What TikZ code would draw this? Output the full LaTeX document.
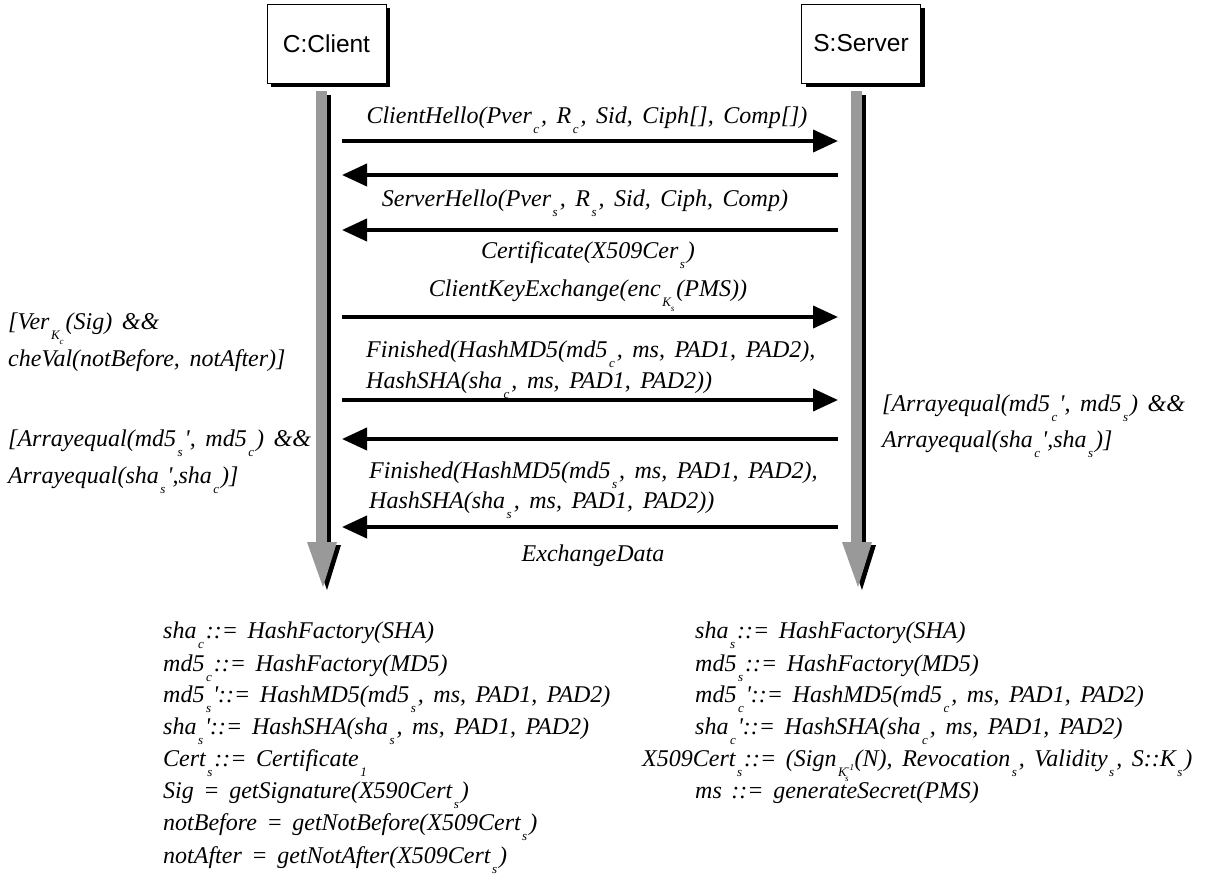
\documentclass[tikz,border=0pt]{standalone}
\usepackage{fontspec}
\setmainfont{Liberation Serif}[WordSpace=1.6]
\newfontfamily\boxfont{Liberation Sans}
\usetikzlibrary{arrows.meta,shadows}

% lowered indices as the picture prints them
\newcommand{\lo}[1]{\kern1.5pt\raisebox{-0.45em}{\fontsize{13}{13}\selectfont #1}\kern2pt}
\newcommand{\llo}[1]{\raisebox{-0.35em}{\fontsize{9}{9}\selectfont #1}}
\newcommand{\pr}{\textquotesingle}

\tikzset{
  actor/.style={draw, line width=0.8pt, fill=white, minimum width=119pt,
    minimum height=79pt, font=\boxfont\fontsize{24.5}{28}\selectfont,
    drop shadow={shadow xshift=4pt, shadow yshift=-4pt, fill=black, opacity=1}},
  msg/.style={line width=4pt, -{Triangle[length=25pt,width=22pt]}},
  txt/.style={inner sep=0pt, font=\fontsize{24}{28}\selectfont\itshape},
}

\begin{document}
\begin{tikzpicture}[x=1pt,y=-1pt]
  \useasboundingbox (0,0) rectangle (1207,891);

  \node[actor] (client) at (326.5,43.5) {C:Client};
  \node[actor] (server) at (861,43.5) {S:Server};

  % life lines
  \foreach \x in {316,851} {
    \fill[black] (\x+11,95) rectangle (\x+15,542);
    \fill[black] (\x-5,545) -- (\x+25,545) -- (\x+11,590) -- cycle;
    \fill[black!40] (\x,91) rectangle (\x+11,542);
    \fill[black!40] (\x-9,542) -- (\x+21,542) -- (\x+7,587) -- cycle;
  }

  \foreach \n/\y in {1/141,2/175,3/230,4/317,5/400,6/439,7/527} {
    \coordinate (c\n) at (342,\y);
    \coordinate (s\n) at (838,\y);
  }

  \draw[msg] (c1) -- (s1);
  \draw[msg] (s2) -- (c2);
  \draw[msg] (s3) -- (c3);
  \draw[msg] (c4) -- (s4);
  \draw[msg] (c5) -- (s5);
  \draw[msg] (s6) -- (c6);
  \draw[msg] (s7) -- (c7);

  % messages
  \node[txt, anchor=base] (hello) at (587,123)
    {ClientHello(Pver\lo{c}, R\lo{c}, Sid, Ciph[], Comp[])};
  \node[txt, anchor=base] (shello) at (585,206)
    {ServerHello(Pver\lo{s}, R\lo{s}, Sid, Ciph, Comp)};
  \node[txt, anchor=base] (cert) at (588,258) {Certificate(X509Cer\lo{s})};
  \node[txt, anchor=base] (kex) at (588,296)
    {ClientKeyExchange(enc\lo{K\llo{s}}(PMS))};
  \node[txt, anchor=base west] (fin1a) at (366,357)
    {Finished(HashMD5(md5\lo{c}, ms, PAD1, PAD2),};
  \node[txt, anchor=base west] (fin1b) at (366,388)
    {HashSHA(sha\lo{c}, ms, PAD1, PAD2))};
  \node[txt, anchor=base west] (fin2a) at (369,478)
    {Finished(HashMD5(md5\lo{s}, ms, PAD1, PAD2),};
  \node[txt, anchor=base west] (fin2b) at (369,508)
    {HashSHA(sha\lo{s}, ms, PAD1, PAD2))};
  \node[txt, anchor=base] (data) at (593,561) {ExchangeData};

  % guards
  \node[txt, anchor=base west] (verA) at (8,329) {[Ver\lo{K\llo{c}}(Sig) \&\&};
  \node[txt, anchor=base west] (verB) at (8,366) {cheVal(notBefore, notAfter)]};
  \node[txt, anchor=base west] (eqcA) at (8,446)
    {[Arrayequal(md5\lo{s}\pr, md5\lo{c}) \&\&};
  \node[txt, anchor=base west] (eqcB) at (8,483)
    {Arrayequal(sha\lo{s}\pr,sha\lo{c})]};
  \node[txt, anchor=base west] (eqsA) at (882,411)
    {[Arrayequal(md5\lo{c}\pr, md5\lo{s}) \&\&};
  \node[txt, anchor=base west] (eqsB) at (882,447)
    {Arrayequal(sha\lo{c}\pr,sha\lo{s})]};

  % client definitions
  \node[txt, anchor=base west] (cdef1) at (163,638) {sha\lo{c} ::= HashFactory(SHA)};
  \node[txt, anchor=base west] (cdef2) at (163,671) {md5\lo{c} ::= HashFactory(MD5)};
  \node[txt, anchor=base west] (cdef3) at (163,702)
    {md5\lo{s}\pr::= HashMD5(md5\lo{s}, ms, PAD1, PAD2)};
  \node[txt, anchor=base west] (cdef4) at (163,734)
    {sha\lo{s}\pr::= HashSHA(sha\lo{s}, ms, PAD1, PAD2)};
  \node[txt, anchor=base west] (cdef5) at (163,766) {Cert\lo{s} ::= Certificate\lo{1}};
  \node[txt, anchor=base west] (cdef6) at (163,798) {Sig = getSignature(X590Cert\lo{s})};
  \node[txt, anchor=base west] (cdef7) at (163,830)
    {notBefore = getNotBefore(X509Cert\lo{s})};
  \node[txt, anchor=base west] (cdef8) at (163,863)
    {notAfter = getNotAfter(X509Cert\lo{s})};

  % server definitions
  \node[txt, anchor=base west] (sdef1) at (695,638) {sha\lo{s} ::= HashFactory(SHA)};
  \node[txt, anchor=base west] (sdef2) at (695,671) {md5\lo{s} ::= HashFactory(MD5)};
  \node[txt, anchor=base west] (sdef3) at (695,702)
    {md5\lo{c}\pr::= HashMD5(md5\lo{c}, ms, PAD1, PAD2)};
  \node[txt, anchor=base west] (sdef4) at (695,734)
    {sha\lo{c}\pr::= HashSHA(sha\lo{c}, ms, PAD1, PAD2)};
  \node[txt, anchor=base west] (sdef5) at (642,766)
    {X509Cert\lo{s} ::= (Sign\lo{K\raisebox{0.45em}{\fontsize{9}{9}\selectfont -1}\kern-9pt\llo{s}\kern4pt}(N),
     Revocation\lo{s}, Validity\lo{s}, S::K\lo{s})};
  \node[txt, anchor=base west] (sdef6) at (695,798) {ms ::= generateSecret(PMS)};
\end{tikzpicture}
\end{document}
